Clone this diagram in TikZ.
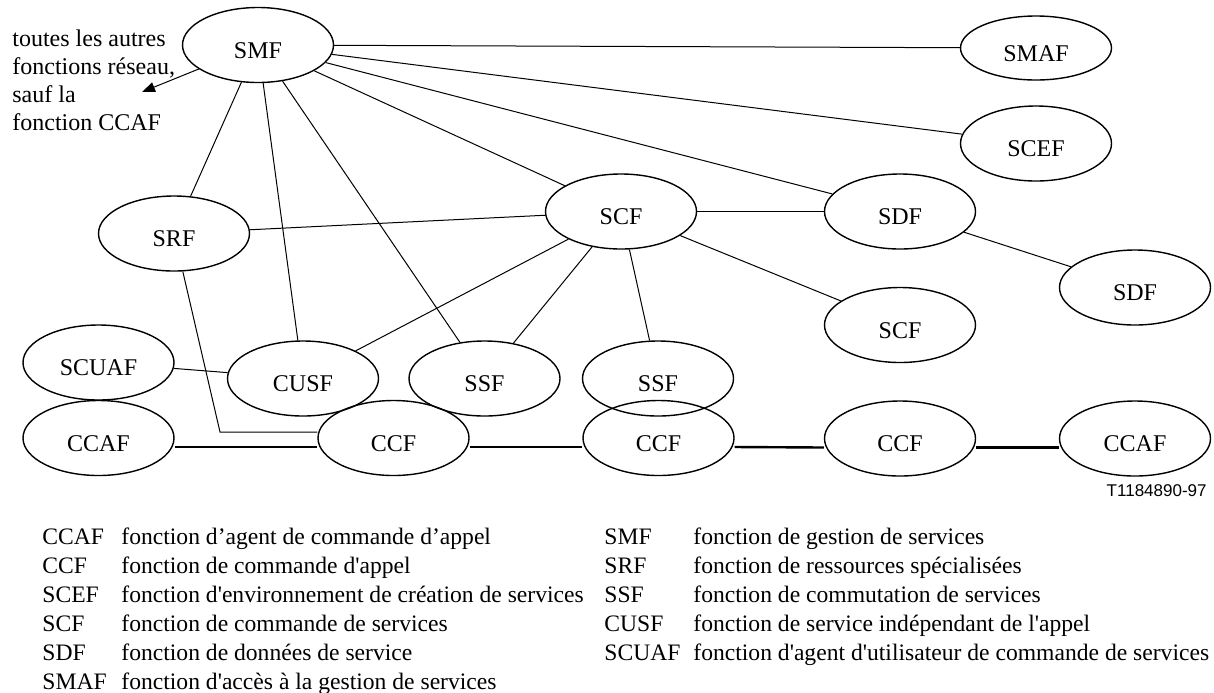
\documentclass[tikz,border=0pt]{standalone}
\usepackage{fontspec}
\newfontfamily\fnfont{Liberation Serif}
\newfontfamily\idfont{Liberation Sans}
\usetikzlibrary{shapes.geometric, arrows.meta}
\newcommand{\fnNodes}{%
    fn/smf/258/45/SMF,
    fn flat/smaf/1036/48/SMAF,
    fn/scef/1036/143.5/SCEF,
    fn/scf 1/621/211.5/SCF,
    fn/sdf 1/900/211.5/SDF,
    fn/sdf 2/1135/287.5/SDF,
    fn/scf 2/900/325/SCF,
    fn/srf/174/233.5/SRF,
    fn/scuaf/98.5/362.5/SCUAF,
    fn/cusf/303/378.5/CUSF,
    fn/ssf 1/484.5/378.5/SSF,
    fn/ssf 2/658/378.5/SSF,
    fn/ccaf 1/98.5/438/CCAF,
    fn/ccf 1/393.5/438/CCF,
    fn/ccf 2/658.5/438/CCF,
    fn/ccf 3/900/438.5/CCF,
    fn/ccaf 2/1135/438.5/CCAF%
}
\newcommand{\fnLinks}{%
    smf/smaf, smf/scef, smf/sdf 1, smf/scf 1, smf/srf, smf/cusf, smf/ssf 1,
    srf/scf 1, scf 1/sdf 1, scf 1/scf 2, scf 1/cusf, scf 1/ssf 1, scf 1/ssf 2,
    sdf 1/sdf 2, scuaf/cusf%
}
\newcommand{\legendLeft}{%
    CCAF/fonction d’agent de commande d’appel,
    CCF/fonction de commande d'appel,
    SCEF/fonction d'environnement de création de services,
    SCF/fonction de commande de services,
    SDF/fonction de données de service,
    SMAF/fonction d'accès à la gestion de services%
}
\newcommand{\legendRight}{%
    SMF/fonction de gestion de services,
    SRF/fonction de ressources spécialisées,
    SSF/fonction de commutation de services,
    CUSF/fonction de service indépendant de l'appel,
    SCUAF/fonction d'agent d'utilisateur de commande de services%
}
\begin{document}
\begin{tikzpicture} [
        x=0.5pt, y=-0.5pt,
        fn/.style={ellipse, draw, line width=0.7pt, minimum width=75.5pt, minimum height=37.5pt, inner sep=0pt,
            font=\fnfont\fontsize{12}{14}\selectfont, text height=13pt, text depth=0pt},
        fn flat/.style={fn, minimum height=32pt},
        link/.style={line width=0.5pt},
        bus/.style={line width=1.2pt},
        note/.style={anchor=north west, align=left, inner sep=0pt, font=\fnfont\fontsize{12}{14}\selectfont},
        legend/.style={anchor=base west, inner sep=0pt, font=\fnfont\fontsize{11.8}{14}\selectfont},
        fig id/.style={anchor=base east, inner sep=0pt, font=\idfont\fontsize{8.5}{10}\selectfont},
    ]
    \useasboundingbox (0,0) rectangle (1214,692);

    \foreach \kind/\name/\px/\py/\txt [expand list] in {\fnNodes} {
        \node[\kind] (\name) at (\px,\py) {\txt};
    }

    \foreach \a/\b [expand list] in {\fnLinks} {
        \draw[link] (\a) -- (\b);
    }

    % SRF goes down and round to the first CCF
    \coordinate (srf bend) at (220,432);
    \draw[link] (srf) -- (srf bend) -- (srf bend -| ccf 1.west);

    \foreach \a/\b in {ccaf 1/ccf 1, ccf 1/ccf 2, ccf 2/ccf 3, ccf 3/ccaf 2} {
        \draw[bus] ([yshift=-4.5pt]\a.east) -- ([yshift=-4.5pt]\b.west);
    }

    \node[note] (others) at (12,29) {toutes les autres\\fonctions réseau,\\sauf la\\fonction CCAF};
    \coordinate (others tip) at (142,92);
    \draw[link, -{Triangle[length=6.5pt, width=5pt]}] (smf) -- (others tip);

    \node[fig id] (fig number) at (1207,496) {T1184890-97};

    \foreach \key/\desc [expand list, count=\i from 0] in {\legendLeft} {
        \node[legend] (key l\i) at (42,{544+29*\i}) {\key};
        \node[legend] (desc l\i) at (121,{544+29*\i}) {\desc};
    }
    \foreach \key/\desc [expand list, count=\i from 0] in {\legendRight} {
        \node[legend] (key r\i) at (604,{544+29*\i}) {\key};
        \node[legend] (desc r\i) at (693,{544+29*\i}) {\desc};
    }
\end{tikzpicture}
\end{document}
